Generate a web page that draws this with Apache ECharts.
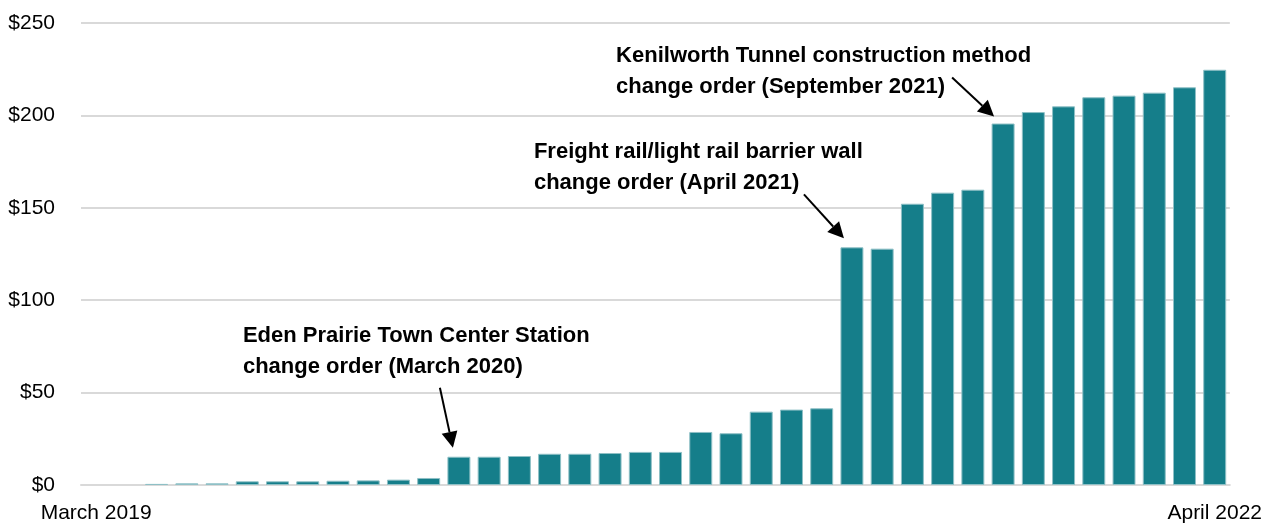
<!DOCTYPE html>
<html>
<head>
<meta charset="utf-8">
<script src="https://cdn.jsdelivr.net/npm/echarts@6/dist/echarts.min.js"></script>
<style>
  html, body { margin: 0; padding: 0; background: #fff; }
  #main { width: 1265px; height: 529px; }
</style>
</head>
<body>
<div id="main"></div>
<script>
// months, March 2019 .. April 2022
var months = [
    'March 2019', 'April 2019', 'May 2019', 'June 2019', 'July 2019', 'August 2019',
    'September 2019', 'October 2019', 'November 2019', 'December 2019', 'January 2020', 'February 2020',
    'March 2020', 'April 2020', 'May 2020', 'June 2020', 'July 2020', 'August 2020',
    'September 2020', 'October 2020', 'November 2020', 'December 2020', 'January 2021', 'February 2021',
    'March 2021', 'April 2021', 'May 2021', 'June 2021', 'July 2021', 'August 2021',
    'September 2021', 'October 2021', 'November 2021', 'December 2021', 'January 2022', 'February 2022',
    'March 2022', 'April 2022'
];

// cumulative cost, millions of dollars
var costs = [
    0, 0, 0.6, 0.9, 0.9, 2.0, 2.0, 2.0, 2.3, 2.5, 2.9, 3.8,
    15.3, 15.3, 15.7, 16.9, 16.9, 17.3, 17.9, 17.9, 28.7, 28.0, 39.7, 40.8,
    41.5, 128.6, 127.9, 152.2, 158.2, 159.8, 195.6, 201.8, 204.9, 209.8, 210.7, 212.3,
    215.2, 224.7
];

var yTicks = [0, 50, 100, 150, 200, 250];

var noteMonths = ['March 2020', 'April 2021', 'September 2021'];
var noteTexts = [
    'Eden Prairie Town Center Station\nchange order (March 2020)',
    'Freight rail/light rail barrier wall\nchange order (April 2021)',
    'Kenilworth Tunnel construction method\nchange order (September 2021)'
];

// offsets from the top centre of the bar: [tip, arrow start, text]
var noteOffsets = [
    [[-6, -9], [-19, -69], [-216, -136]],
    [[-8, -9], [-48, -53], [-318, -111]],
    [[-9, -7], [-51, -46], [-387, -83]]
];

var myChart = echarts.init(document.getElementById('main'));

// empty months get no outline
var barData = costs.map(function(v) {
    return v > 0 ? v : { value: v, itemStyle: { borderWidth: 0 } };
});

var option = {
    animation: false,
    grid: {
        left: 81,
        right: 35,
        top: 23,
        bottom: 44
    },
    xAxis: {
        type: 'category',
        data: months,
        axisLine: { lineStyle: { color: '#d9d9d9', width: 2 } },
        axisTick: { show: false },
        axisLabel: {
            interval: function(i) { return i == 0 || i == months.length - 1; },
            color: '#000',
            fontFamily: 'Liberation Sans',
            fontSize: 21,
            margin: 18
        }
    },
    yAxis: {
        type: 'value',
        min: yTicks[0],
        max: yTicks[yTicks.length - 1],
        interval: 50,
        axisLine: { show: false },
        axisTick: { show: false },
        axisLabel: {
            formatter: function(v) { return '$' + v; },
            color: '#000',
            fontFamily: 'Liberation Sans',
            fontSize: 21,
            margin: 26
        },
        splitLine: { lineStyle: { color: '#d9d9d9', width: 2 } }
    },
    series: [{
        type: 'bar',
        data: barData,
        barCategoryGap: '24%',
        itemStyle: {
            color: '#157e8a',
            borderColor: '#8fc0c6',
            borderWidth: 1
        }
    }]
};
myChart.setOption(option);

// annotations placed from the bar positions the axis gives
var graphics = [];
for (var i = 0; i < noteMonths.length; i++) {
    var idx = months.indexOf(noteMonths[i]);
    var p = myChart.convertToPixel({ seriesIndex: 0 }, [idx, costs[idx]]);
    var off = noteOffsets[i];
    var tx = p[0] + off[0][0], ty = p[1] + off[0][1];
    var sx = p[0] + off[1][0], sy = p[1] + off[1][1];
    var ang = Math.atan2(ty - sy, tx - sx);
    var len = 16, half = 8;
    var bx = tx - len * Math.cos(ang), by = ty - len * Math.sin(ang);
    graphics.push({
        type: 'line',
        shape: { x1: sx, y1: sy, x2: bx, y2: by },
        style: { stroke: '#000', lineWidth: 2 }
    });
    graphics.push({
        type: 'polygon',
        shape: {
            points: [
                [tx, ty],
                [bx + half * Math.sin(ang), by - half * Math.cos(ang)],
                [bx - half * Math.sin(ang), by + half * Math.cos(ang)]
            ]
        },
        style: { fill: '#000' }
    });
    graphics.push({
        type: 'text',
        x: p[0] + off[2][0],
        y: p[1] + off[2][1],
        style: {
            text: noteTexts[i],
            fill: '#000',
            font: 'bold 22px "Liberation Sans"',
            lineHeight: 31,
            textAlign: 'left',
            textVerticalAlign: 'top'
        }
    });
}
myChart.setOption({ graphic: graphics });
</script>
</body>
</html>
